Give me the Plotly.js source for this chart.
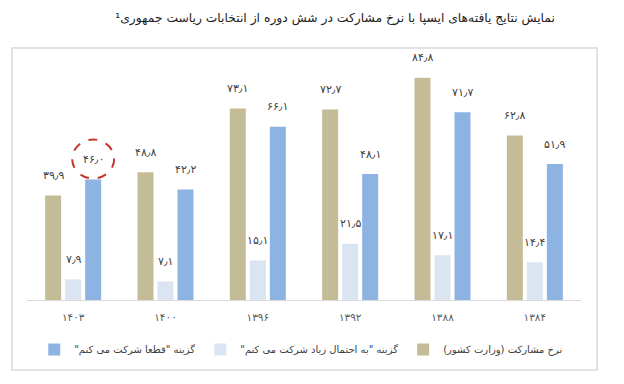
<!DOCTYPE html>
<html>
<head>
<meta charset="utf-8">
<script src="https://cdn.plot.ly/plotly-3.0.1.min.js"></script>
<style>
  html, body { margin: 0; padding: 0; background: #ffffff; }
  #chart { width: 624px; height: 384px; }
</style>
</head>
<body>
<div id="chart"></div>
<script>
// Categories (election years, Persian calendar) — left to right as in the reference
const categories = ["۱۴۰۳", "۱۴۰۰", "۱۳۹۶", "۱۳۹۲", "۱۳۸۸", "۱۳۸۴"];

// Series names
const RLM = "\u200F";
const nameOfficial = RLM + "نرخ مشارکت (وزارت کشور)" + RLM;
const nameLikely = RLM + "گزینه \"به احتمال زیاد شرکت می کنم\"" + RLM;
const nameDefinite = RLM + "گزینه \"قطعا شرکت می کنم\"" + RLM;

// Series values (%)
const officialTurnout = [39.9, 48.8, 73.1, 72.7, 84.8, 62.8];
const likelyToVote = [7.9, 7.1, 15.1, 21.5, 17.1, 14.4];
const definitelyVote = [46.0, 42.2, 66.1, 48.1, 71.7, 51.9];

// Highlighted point (circled in the reference)
const highlightCategory = "۱۴۰۳";
const highlightValue = 46.0;

const titleText = RLM + "نمایش نتایج یافته‌های ایسپا با نرخ مشارکت در شش دوره از انتخابات ریاست جمهوری¹" + RLM;

const colors = { official: "#C4BC96", likely: "#DBE5F1", definite: "#8DB3E2" };
const FONT = "DejaVu Sans, Noto Sans, sans-serif";

function toFa(v) {
  const d = "۰۱۲۳۴۵۶۷۸۹";
  return v.toFixed(1).replace(/\d/g, c => d[+c]).replace(".", "٫");
}

const series = [
  { name: nameOfficial, values: officialTurnout, color: colors.official, shift: -20 },
  { name: nameLikely, values: likelyToVote, color: colors.likely, shift: 0 },
  { name: nameDefinite, values: definitelyVote, color: colors.definite, shift: 20 }
];

const traces = series.map(s => ({
  type: "bar",
  name: s.name,
  x: categories,
  y: s.values,
  marker: { color: s.color, line: { width: 0 } },
  hoverinfo: "skip"
}));

const annotations = [];
series.forEach(s => {
  s.values.forEach((v, i) => {
    annotations.push({
      x: categories[i], y: v, xref: "x", yref: "y",
      text: toFa(v), showarrow: false,
      xshift: s.shift, yshift: 20, yanchor: "middle",
      font: { family: FONT, size: 11, color: "#404040" }
    });
  });
});

const shapes = [
  // outer frame
  { type: "rect", xref: "paper", yref: "paper", x0: -0.027, x1: 1.029, y0: -0.29, y1: 1.046,
    line: { color: "#DADADA", width: 1.5 }, fillcolor: "rgba(0,0,0,0)", layer: "below" },
  // red dashed highlight ellipse around the label
  { type: "circle", xref: "x", yref: "y",
    xsizemode: "pixel", ysizemode: "pixel",
    xanchor: categories.indexOf(highlightCategory), yanchor: highlightValue,
    x0: -1, x1: 41, y0: 1, y1: 40,
    line: { color: "#C0392B", width: 2, dash: "dash" } }
];

const layout = {
  width: 624, height: 384,
  margin: { l: 27, r: 43, t: 59, b: 84 },
  paper_bgcolor: "#ffffff", plot_bgcolor: "#ffffff",
  font: { family: FONT, color: "#404040" },
  title: {
    text: titleText,
    font: { family: FONT, size: 12.3, color: "#222222" },
    xref: "container", yref: "container",
    x: 0.537, xanchor: "center", y: 0.955, yanchor: "middle"
  },
  barmode: "group", bargap: 0.35, bargroupgap: 0.2,
  showlegend: true,
  legend: {
    orientation: "h", x: 0.495, xanchor: "center", y: -0.205, yanchor: "middle",
    traceorder: "reversed",
    font: { family: FONT, size: 10, color: "#404040" },
    itemwidth: 30
  },
  xaxis: {
    type: "category",
    showgrid: false, zeroline: false,
    showline: true, linecolor: "#D9D9D9", linewidth: 1,
    ticks: "outside", ticklen: 7, tickcolor: "rgba(0,0,0,0)",
    tickfont: { family: FONT, size: 10.5, color: "#595959" },
    fixedrange: true
  },
  yaxis: {
    range: [0, 92], visible: false, showgrid: false, zeroline: false, fixedrange: true
  },
  annotations: annotations,
  shapes: shapes
};

Plotly.newPlot("chart", traces, layout, { staticPlot: true, displayModeBar: false });
</script>
</body>
</html>
